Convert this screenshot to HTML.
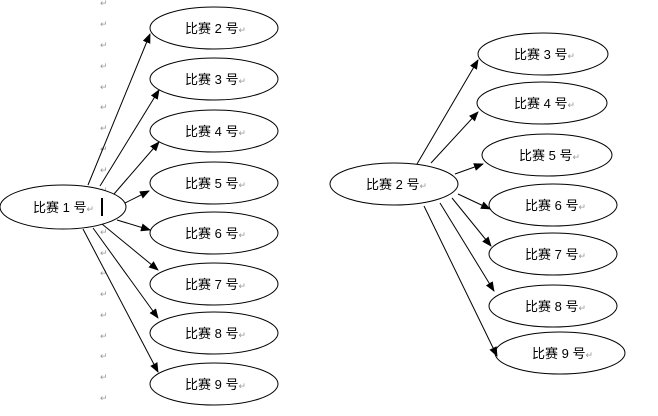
<!DOCTYPE html>
<html><head><meta charset="utf-8"><style>
html,body{margin:0;padding:0;background:#fff;}
svg text{font-family:"Liberation Sans","Noto Sans CJK SC",sans-serif;font-size:13px;fill:#000;}
.r{font-size:9px;fill:#999;}
</style></head><body>
<svg width="658" height="411" viewBox="0 0 658 411" xmlns="http://www.w3.org/2000/svg">
<defs><marker id="a" markerWidth="10" markerHeight="8" refX="9" refY="4" orient="auto" markerUnits="userSpaceOnUse"><path d="M0,0 L10,4 L0,8 z" fill="#000"/></marker></defs>
<g class="r">
<text class="r" x="100" y="6">↵</text><text class="r" x="100" y="27">↵</text><text class="r" x="100" y="48">↵</text><text class="r" x="100" y="69">↵</text><text class="r" x="100" y="90">↵</text><text class="r" x="100" y="110">↵</text><text class="r" x="100" y="131">↵</text><text class="r" x="100" y="152">↵</text><text class="r" x="100" y="173">↵</text><text class="r" x="100" y="193">↵</text><text class="r" x="100" y="235">↵</text><text class="r" x="100" y="256">↵</text><text class="r" x="100" y="276">↵</text><text class="r" x="100" y="297">↵</text><text class="r" x="100" y="318">↵</text><text class="r" x="100" y="339">↵</text><text class="r" x="100" y="359">↵</text><text class="r" x="100" y="380">↵</text><text class="r" x="100" y="401">↵</text>
</g>
<g fill="#fff" stroke="#000" stroke-width="1">
<ellipse cx="63" cy="207" rx="63" ry="22"/>
<ellipse cx="214" cy="28" rx="64" ry="21"/>
<ellipse cx="214" cy="79" rx="64" ry="21"/>
<ellipse cx="214" cy="131" rx="64" ry="21"/>
<ellipse cx="214" cy="183" rx="64" ry="21"/>
<ellipse cx="214" cy="233" rx="64" ry="21"/>
<ellipse cx="214" cy="284" rx="64" ry="21"/>
<ellipse cx="214" cy="333" rx="64" ry="21"/>
<ellipse cx="214" cy="384" rx="64" ry="21"/>
<ellipse cx="394" cy="184" rx="64" ry="21"/>
<ellipse cx="543" cy="54" rx="65" ry="21"/>
<ellipse cx="542" cy="103" rx="65" ry="21"/>
<ellipse cx="547" cy="155" rx="65" ry="21"/>
<ellipse cx="553" cy="205" rx="64" ry="21"/>
<ellipse cx="553" cy="254" rx="64" ry="21"/>
<ellipse cx="553" cy="306" rx="64" ry="21"/>
<ellipse cx="560" cy="353" rx="65" ry="21"/>
</g>
<g stroke="#000" stroke-width="1" marker-end="url(#a)">
<line x1="88" y1="185" x2="150" y2="34"/>
<line x1="100" y1="186" x2="159" y2="90"/>
<line x1="114" y1="194" x2="159" y2="142"/>
<line x1="125" y1="203" x2="149" y2="191"/>
<line x1="117" y1="220" x2="150" y2="230"/>
<line x1="102" y1="224" x2="158" y2="270"/>
<line x1="93" y1="228" x2="158" y2="318"/>
<line x1="83" y1="229" x2="158" y2="372"/>
<line x1="417" y1="164" x2="478" y2="60"/>
<line x1="431" y1="163" x2="478" y2="112"/>
<line x1="455" y1="174" x2="483" y2="164"/>
<line x1="458" y1="194" x2="490" y2="209"/>
<line x1="452" y1="198" x2="491" y2="246"/>
<line x1="440" y1="203" x2="494" y2="291"/>
<line x1="424" y1="206" x2="497" y2="356"/>
</g>
<rect x="101" y="198" width="2" height="18" fill="#000"/>
<text x="33" y="212">比赛 1 号<tspan class="r">↵</tspan></text>
<text x="185" y="33">比赛 2 号<tspan class="r">↵</tspan></text>
<text x="185" y="84">比赛 3 号<tspan class="r">↵</tspan></text>
<text x="185" y="136">比赛 4 号<tspan class="r">↵</tspan></text>
<text x="185" y="188">比赛 5 号<tspan class="r">↵</tspan></text>
<text x="185" y="238">比赛 6 号<tspan class="r">↵</tspan></text>
<text x="185" y="289">比赛 7 号<tspan class="r">↵</tspan></text>
<text x="185" y="338">比赛 8 号<tspan class="r">↵</tspan></text>
<text x="185" y="389">比赛 9 号<tspan class="r">↵</tspan></text>
<text x="366" y="189">比赛 2 号<tspan class="r">↵</tspan></text>
<text x="514" y="59">比赛 3 号<tspan class="r">↵</tspan></text>
<text x="514" y="108">比赛 4 号<tspan class="r">↵</tspan></text>
<text x="519" y="160">比赛 5 号<tspan class="r">↵</tspan></text>
<text x="525" y="210">比赛 6 号<tspan class="r">↵</tspan></text>
<text x="525" y="259">比赛 7 号<tspan class="r">↵</tspan></text>
<text x="525" y="311">比赛 8 号<tspan class="r">↵</tspan></text>
<text x="532" y="358">比赛 9 号<tspan class="r">↵</tspan></text>
</svg>
</body></html>
